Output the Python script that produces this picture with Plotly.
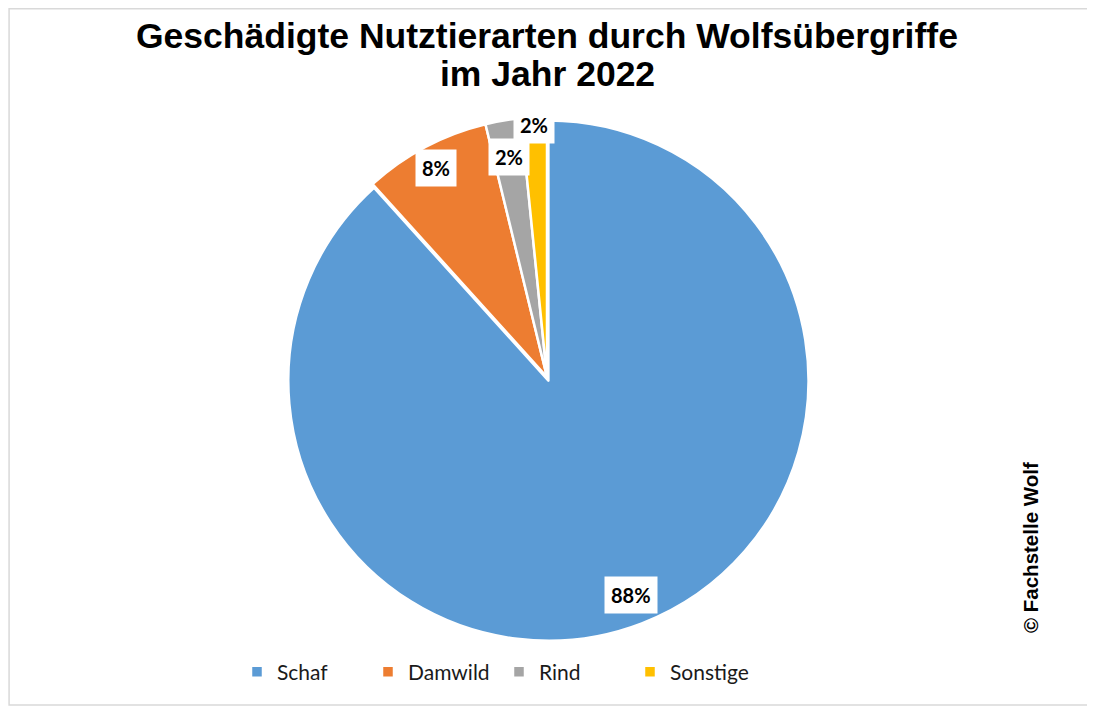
import math
import plotly.graph_objects as go

# Anteile der geschädigten Nutztierarten (in %)
kategorien = ['Schaf', 'Damwild', 'Rind', 'Sonstige']
anteile = [88.3, 7.9, 2.2, 1.6]
farben = ['#5B9BD5', '#ED7D31', '#A5A5A5', '#FFC000']

# die Seite hat 8px Rand, daher etwas kleinere Figur
OFF = 8
W, H = 1095 - OFF, 710 - OFF


def px(x, y):
    # Referenz-Pixel -> Papierkoordinaten
    return (x - OFF) / W, 1 - (y - OFF) / H


# Kreis-Geometrie (Referenz-Pixel)
cx, cy, r_dom = 547, 377, 264
pull = [0.015, 0, 0, 0]
r_eff = r_dom / (1 + max(pull))
label_r = [0.9, 0.91, 0.86, 0.97]

x0, y1 = px(cx - r_dom, cy - r_dom)
x1, y0 = px(cx + r_dom, cy + r_dom)

fig = go.Figure(go.Pie(
    labels=kategorien,
    values=anteile,
    sort=False,
    direction='clockwise',
    rotation=0,
    pull=pull,
    marker=dict(colors=farben, line=dict(color='white', width=2.5)),
    textinfo='none',
    hoverinfo='label+percent',
    domain=dict(x=[x0, x1], y=[y0, y1]),
))

# Prozent-Beschriftungen mit weißem Hintergrund
total = sum(anteile)
start = 0.0
for i, v in enumerate(anteile):
    mid = start + v / total * 360 / 2
    start += v / total * 360
    rr = r_eff * label_r[i]
    ax, ay = px(cx + rr * math.sin(math.radians(mid)),
                cy - rr * math.cos(math.radians(mid)))
    fig.add_annotation(
        x=ax, y=ay, xref='paper', yref='paper',
        xanchor='center', yanchor='middle',
        text='<b>%d%%</b>' % round(v / total * 100),
        showarrow=False, bgcolor='white', borderpad=6,
        font=dict(family='Lato, Arial', size=20, color='black'),
    )

# Titel (zwei Zeilen, eng gesetzt)
for txt, ty in [('Geschädigte Nutztierarten durch Wolfsübergriffe', 36),
                ('im Jahr 2022', 74)]:
    tx, tyy = px(547, ty)
    fig.add_annotation(
        x=tx, y=tyy, xref='paper', yref='paper',
        xanchor='center', yanchor='middle',
        text='<b>%s</b>' % txt, showarrow=False,
        font=dict(family='Liberation Sans, Arial', size=35.5, color='black'),
    )

vx, vy = px(1030, 548)
fig.add_annotation(
    x=vx, y=vy, xref='paper', yref='paper',
    xanchor='center', yanchor='middle',
    text='<b>© Fachstelle Wolf</b>', textangle=-90, showarrow=False,
    font=dict(family='Liberation Sans, Arial', size=20.5, color='black'),
)

bx1, by0 = px(1090, 705)
fig.add_shape(type='rect', xref='paper', yref='paper',
              x0=0.001, y0=by0, x1=bx1, y1=0.999,
              line=dict(color='#D9D9D9', width=1.5))

lx, ly = px(237, 672)
fig.update_layout(
    legend=dict(
        orientation='h', x=lx, xanchor='left', y=ly, yanchor='middle',
        font=dict(family='Lato, Calibri, sans-serif', size=21, color='#1a1a1a'),
        itemwidth=30, traceorder='normal',
        entrywidth=86, entrywidthmode='pixels',
    ),
    width=W, height=H,
    margin=dict(t=0, l=0, r=0, b=0),
    paper_bgcolor='white',
    plot_bgcolor='white',
)

fig.write_html("out.html")
